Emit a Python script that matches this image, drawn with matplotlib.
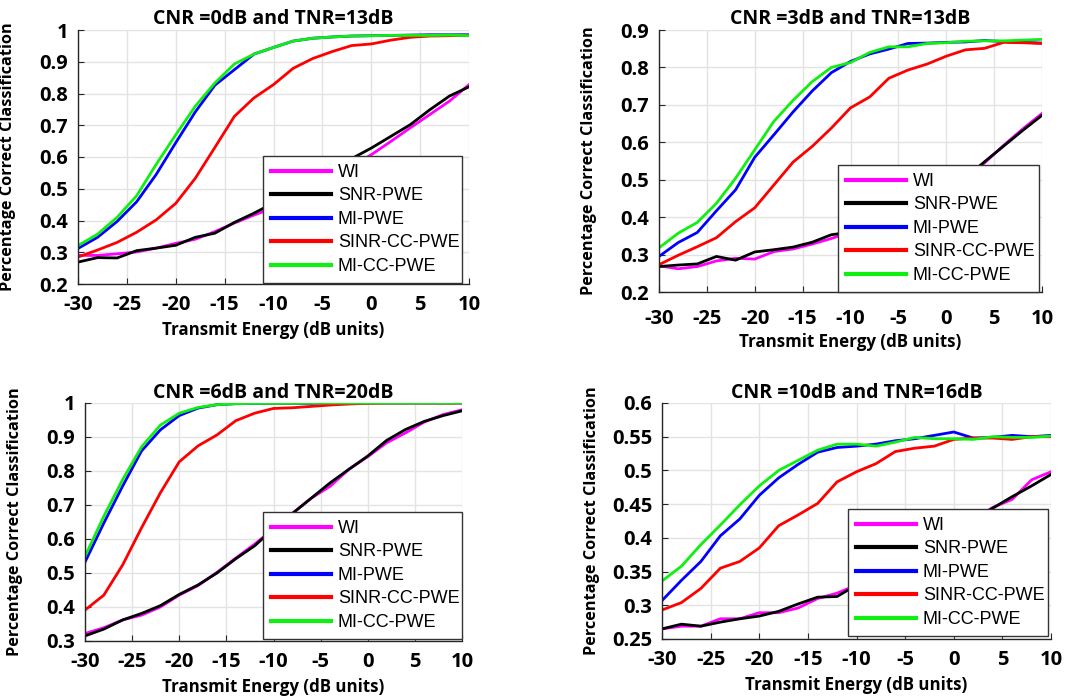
import matplotlib
matplotlib.use("Agg")
import matplotlib.pyplot as plt

energy = list(range(-30, 11, 2))
names = ["WI", "SNR-PWE", "MI-PWE", "SINR-CC-PWE", "MI-CC-PWE"]
colors = ["#ff00ff", "#000000", "#0000ff", "#ff0000", "#10f010"]

# CNR = 0 dB, TNR = 13 dB
wi_a = [0.29, 0.29, 0.295, 0.301, 0.313, 0.328, 0.341, 0.365, 0.392, 0.417, 0.44,
        0.47, 0.50, 0.535, 0.57, 0.607, 0.649, 0.692, 0.734, 0.776, 0.828]
snr_a = [0.269, 0.283, 0.282, 0.305, 0.313, 0.322, 0.347, 0.36, 0.394, 0.423, 0.455,
         0.49, 0.525, 0.56, 0.595, 0.628, 0.665, 0.702, 0.749, 0.792, 0.821]
mi_a = [0.312, 0.347, 0.397, 0.459, 0.545, 0.645, 0.742, 0.826, 0.875, 0.924, 0.945,
        0.965, 0.974, 0.978, 0.981, 0.982, 0.983, 0.984, 0.985, 0.985, 0.985]
sinr_a = [0.285, 0.307, 0.331, 0.363, 0.402, 0.454, 0.533, 0.63, 0.728, 0.786, 0.828,
          0.879, 0.91, 0.932, 0.951, 0.956, 0.968, 0.977, 0.981, 0.982, 0.983]
micc_a = [0.321, 0.357, 0.41, 0.478, 0.577, 0.67, 0.76, 0.833, 0.893, 0.924, 0.945,
          0.965, 0.974, 0.978, 0.981, 0.982, 0.983, 0.983, 0.983, 0.984, 0.982]

# CNR = 3 dB, TNR = 13 dB
wi_b = [0.27, 0.262, 0.268, 0.283, 0.29, 0.288, 0.308, 0.315, 0.328, 0.343, 0.36,
        0.38, 0.405, 0.43, 0.46, 0.485, 0.505, 0.545, 0.592, 0.636, 0.677]
snr_b = [0.268, 0.272, 0.275, 0.295, 0.285, 0.307, 0.313, 0.32, 0.333, 0.353, 0.36,
         0.38, 0.405, 0.43, 0.46, 0.485, 0.505, 0.548, 0.59, 0.632, 0.672]
mi_b = [0.295, 0.332, 0.359, 0.417, 0.473, 0.56, 0.62, 0.681, 0.737, 0.786, 0.816,
        0.836, 0.849, 0.864, 0.865, 0.867, 0.868, 0.872, 0.869, 0.867, 0.865]
sinr_b = [0.273, 0.298, 0.321, 0.345, 0.388, 0.425, 0.486, 0.547, 0.589, 0.638, 0.692,
          0.721, 0.771, 0.793, 0.809, 0.83, 0.847, 0.851, 0.867, 0.866, 0.864]
micc_b = [0.318, 0.357, 0.386, 0.437, 0.504, 0.58, 0.656, 0.712, 0.762, 0.8, 0.813,
          0.84, 0.855, 0.855, 0.864, 0.866, 0.87, 0.871, 0.871, 0.873, 0.875]

# CNR = 6 dB, TNR = 20 dB
wi_c = [0.322, 0.339, 0.362, 0.376, 0.4, 0.435, 0.463, 0.502, 0.544, 0.585, 0.63,
        0.675, 0.72, 0.755, 0.805, 0.842, 0.883, 0.912, 0.944, 0.966, 0.98]
snr_c = [0.315, 0.335, 0.362, 0.381, 0.404, 0.437, 0.465, 0.5, 0.542, 0.58, 0.63,
         0.675, 0.72, 0.765, 0.805, 0.844, 0.89, 0.922, 0.946, 0.963, 0.977]
mi_c = [0.532, 0.647, 0.756, 0.859, 0.921, 0.963, 0.985, 0.995, 0.998, 0.999, 0.999,
        0.999, 0.999, 1.0, 1.0, 1.0, 1.0, 1.0, 1.0, 1.0, 1.0]
sinr_c = [0.391, 0.435, 0.524, 0.633, 0.736, 0.827, 0.874, 0.906, 0.948, 0.97, 0.984,
          0.986, 0.99, 0.994, 0.997, 0.999, 1.0, 1.0, 1.0, 1.0, 1.0]
micc_c = [0.549, 0.667, 0.775, 0.871, 0.935, 0.97, 0.987, 0.995, 0.998, 0.999, 0.999,
          0.999, 1.0, 1.0, 1.0, 1.0, 1.0, 1.0, 1.0, 1.0, 1.0]

# CNR = 10 dB, TNR = 16 dB
wi_d = [0.265, 0.269, 0.269, 0.28, 0.28, 0.289, 0.289, 0.296, 0.31, 0.318, 0.33,
        0.345, 0.36, 0.378, 0.395, 0.41, 0.427, 0.445, 0.457, 0.486, 0.498]
snr_d = [0.265, 0.272, 0.269, 0.275, 0.28, 0.284, 0.291, 0.302, 0.312, 0.313, 0.33,
         0.345, 0.36, 0.378, 0.395, 0.41, 0.427, 0.444, 0.461, 0.477, 0.494]
mi_d = [0.307, 0.337, 0.365, 0.403, 0.428, 0.463, 0.489, 0.509, 0.527, 0.534, 0.536,
        0.539, 0.544, 0.547, 0.552, 0.557, 0.548, 0.549, 0.552, 0.55, 0.552]
sinr_d = [0.293, 0.304, 0.325, 0.355, 0.365, 0.385, 0.418, 0.434, 0.451, 0.483, 0.498,
          0.51, 0.528, 0.533, 0.536, 0.546, 0.548, 0.548, 0.546, 0.55, 0.55]
micc_d = [0.336, 0.358, 0.39, 0.419, 0.449, 0.477, 0.5, 0.515, 0.53, 0.539, 0.539,
          0.536, 0.542, 0.549, 0.547, 0.547, 0.546, 0.55, 0.549, 0.549, 0.551]

titles = ["CNR =0dB and TNR=13dB", "CNR =3dB and TNR=13dB",
          "CNR =6dB and TNR=20dB", "CNR =10dB and TNR=16dB"]
series = [
    [wi_a, snr_a, mi_a, sinr_a, micc_a],
    [wi_b, snr_b, mi_b, sinr_b, micc_b],
    [wi_c, snr_c, mi_c, sinr_c, micc_c],
    [wi_d, snr_d, mi_d, sinr_d, micc_d],
]
ylims = [(0.2, 1.0), (0.2, 0.9), (0.3, 1.0), (0.25, 0.6)]
yticks = [
    [0.2, 0.3, 0.4, 0.5, 0.6, 0.7, 0.8, 0.9, 1.0],
    [0.2, 0.3, 0.4, 0.5, 0.6, 0.7, 0.8, 0.9],
    [0.3, 0.4, 0.5, 0.6, 0.7, 0.8, 0.9, 1.0],
    [0.25, 0.3, 0.35, 0.4, 0.45, 0.5, 0.55, 0.6],
]
xticks = [-30, -25, -20, -15, -10, -5, 0, 5, 10]

W, H = 1077, 700
# axes boxes in pixels: left, top, right, bottom
boxes = [(78, 30, 469, 284), (659, 30, 1042, 292),
         (85, 403, 462, 641), (662, 403, 1051, 639)]
# legend boxes in pixels: left, top, right, bottom
leg_boxes = [(263, 158, 462, 283), (838, 168, 1039, 292),
             (263, 514, 462, 639), (848, 512, 1048, 636)]

bold_font = "Open Sans"
fig = plt.figure(figsize=(W / 100, H / 100), dpi=100)

for i in range(4):
    l, t, r, b = boxes[i]
    ax = fig.add_axes([l / W, 1 - b / H, (r - l) / W, (b - t) / H])
    for name, col, vals in zip(names, colors, series[i]):
        ax.plot(energy, vals, color=col, linewidth=2, label=name)
    ax.set_xlim(-30, 10)
    ax.set_ylim(*ylims[i])
    ax.set_xticks(xticks)
    ax.set_yticks(yticks[i])
    ax.set_xticklabels([str(x) for x in xticks])
    ax.set_yticklabels([f"{y:g}" for y in yticks[i]])
    ax.grid(True, color="#e3e3e3", linewidth=1)
    ax.set_axisbelow(True)
    for s in ["top", "right"]:
        ax.spines[s].set_visible(False)
    for s in ["left", "bottom"]:
        ax.spines[s].set_color("#262626")
        ax.spines[s].set_linewidth(1)
    ax.tick_params(direction="in", length=4, color="#262626", pad=7)
    ax.tick_params(axis="x", pad=12 if i == 1 else 8)
    for lab in ax.get_xticklabels() + ax.get_yticklabels():
        lab.set_fontfamily(bold_font)
        lab.set_fontweight("bold")
        lab.set_fontsize(14.5)
    ax.set_title(titles[i], fontfamily=bold_font, fontweight="bold",
                 fontsize=14, pad=4 if i < 2 else 1)
    ax.set_xlabel("Transmit Energy (dB units)", fontfamily=bold_font,
                  fontweight="bold", fontsize=12.2)
    ax.set_ylabel("Percentage Correct Classification", fontfamily=bold_font,
                  fontweight="bold", fontsize=11.7)
    ax.yaxis.set_label_coords(-62 / (r - l), 0.5)
    ax.xaxis.set_label_coords(0.5, -(37 if i != 1 else 41) / (b - t))

    ll, lt, lr, lb = leg_boxes[i]
    anchor = ((ll - l) / (r - l), (b - lb) / (b - t),
              (lr - ll) / (r - l), (lb - lt) / (b - t))
    leg = ax.legend(loc="lower left", bbox_to_anchor=anchor, mode="expand",
                    borderaxespad=0, fancybox=False, framealpha=1,
                    edgecolor="#333333", handlelength=3.3, handletextpad=0.4,
                    labelspacing=0.36, borderpad=0.45,
                    prop={"family": "Liberation Sans", "size": 13})
    leg.get_frame().set_linewidth(1)
    for line in leg.get_lines():
        line.set_linewidth(3)

fig.savefig("out.png", dpi=100)
